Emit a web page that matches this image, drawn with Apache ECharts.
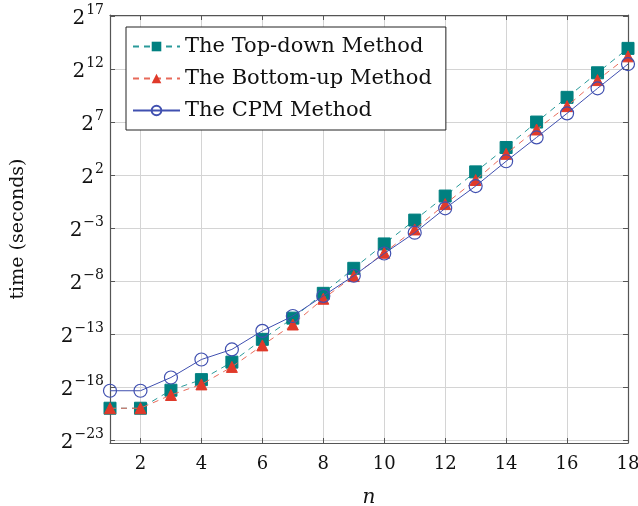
<!DOCTYPE html>
<html><head><meta charset="utf-8">
<script src="https://cdn.jsdelivr.net/npm/echarts@6/dist/echarts.min.js"></script>
<style>html,body{margin:0;padding:0;background:#fff}#c{width:638px;height:506px}</style>
</head><body><div id="c"></div>
<script>
// n values
const nValues = [1,2,3,4,5,6,7,8,9,10,11,12,13,14,15,16,17,18];
// log2 of time (seconds)
const topDown  = [-20,-20,-18.3,-17.3,-15.65,-13.5,-11.5,-9.16,-6.8,-4.5,-2.25,0.02,2.3,4.6,7.0,9.33,11.65,13.95];
const bottomUp = [-20,-20,-18.75,-17.75,-16.1,-14.07,-12.1,-9.67,-7.53,-5.33,-3.13,-0.74,1.53,4.0,6.3,8.5,10.96,13.2];
const cpm      = [-18.35,-18.35,-17.1,-15.4,-14.45,-12.7,-11.3,-9.4,-7.5,-5.4,-3.44,-1.14,0.96,3.3,5.55,7.82,10.18,12.47];
const seriesNames = ['The Top-down Method','The Bottom-up Method','The CPM Method'];
const xTicks = [2,4,6,8,10,12,14,16,18];
const yTicks = [-23,-18,-13,-8,-3,2,7,12,17];

const serif = 'DejaVu Serif';
const pair = (arr) => nValues.map((n,i)=>[n,arr[i]]);
const frame = '#555';
const gridC = '#d4d4d4';

const chart = echarts.init(document.getElementById('c'));
const yLabelFmt = v => '{b|2}{s|' + String(v).replace('-', '\u2212') + '}';
chart.setOption({
  animation:false,
  textStyle:{fontFamily:serif},
  grid:{left:110,right:10,top:15,bottom:63, containLabel:false, outerBoundsMode:'none'},
  legend:{
    left:126, top:27, orient:'vertical',
    data:seriesNames,
    backgroundColor:'#fff', borderColor:'#222', borderWidth:1,
    padding:[9,14,9,6], itemGap:11, itemWidth:47, itemHeight:12,
    textStyle:{fontFamily:serif, fontSize:21, color:'#111'}
  },
  xAxis:[{
    type:'value', min:1, max:18,
    name:'n', nameLocation:'middle', nameGap:45,
    nameTextStyle:{fontFamily:serif, fontStyle:'italic', fontSize:20, color:'#111'},
    axisLine:{onZero:false, lineStyle:{color:frame, width:1.2}},
    axisTick:{inside:true, length:5, customValues:xTicks, lineStyle:{color:frame}},
    axisLabel:{customValues:xTicks, fontFamily:serif, fontSize:18, color:'#111', margin:12},
    splitLine:{show:true, lineStyle:{color:gridC}}
  },{
    type:'value', min:1, max:18, position:'top',
    axisLine:{show:true, onZero:false, lineStyle:{color:frame, width:1.2}},
    axisTick:{inside:true, length:5, customValues:xTicks, lineStyle:{color:frame}},
    axisLabel:{show:false}, splitLine:{show:false}
  }],
  yAxis:[{
    type:'value', min:-23.28, max:17.1,
    name:'time (seconds)', nameLocation:'middle', nameGap:82, nameRotate:90,
    nameTextStyle:{fontFamily:serif, fontSize:19, color:'#111'},
    axisLine:{show:true, onZero:false, lineStyle:{color:frame, width:1.2}},
    axisTick:{show:true, inside:true, length:5, customValues:yTicks, lineStyle:{color:frame}},
    axisLabel:{customValues:yTicks, formatter:yLabelFmt, margin:6,
      rich:{b:{fontFamily:serif, fontSize:20, color:'#111', lineHeight:26, verticalAlign:'bottom'},
            s:{fontFamily:serif, fontSize:14, color:'#111', lineHeight:26, verticalAlign:'top', padding:[0,0,0,1]}}},
    splitLine:{show:true, lineStyle:{color:gridC}}
  },{
    type:'value', min:-23.28, max:17.1, position:'right',
    axisLine:{show:true, onZero:false, lineStyle:{color:frame, width:1.2}},
    axisTick:{show:true, inside:true, length:5, customValues:yTicks, lineStyle:{color:frame}},
    axisLabel:{show:false}, splitLine:{show:false}
  }],
  series:[
    {name:seriesNames[0], type:'line', data:pair(topDown), symbol:'rect', symbolSize:12,
     itemStyle:{color:'#008080', borderColor:'#008080'},
     lineStyle:{color:'#2a9a9a', width:1, type:[6,5]}, z:2},
    {name:seriesNames[1], type:'line', data:pair(bottomUp), symbol:'triangle', symbolSize:11,
     itemStyle:{color:'#e03a2a', borderColor:'#e03a2a'},
     lineStyle:{color:'#e86a5a', width:1, type:[6,5]}, z:3},
    {name:seriesNames[2], type:'line', data:pair(cpm), symbol:'circle', symbolSize:13,
     itemStyle:{color:'rgba(255,255,255,0)', borderColor:'#4050b0', borderWidth:1.2},
     lineStyle:{color:'#4050b0', width:1}, z:4}
  ]
});
</script></body></html>
